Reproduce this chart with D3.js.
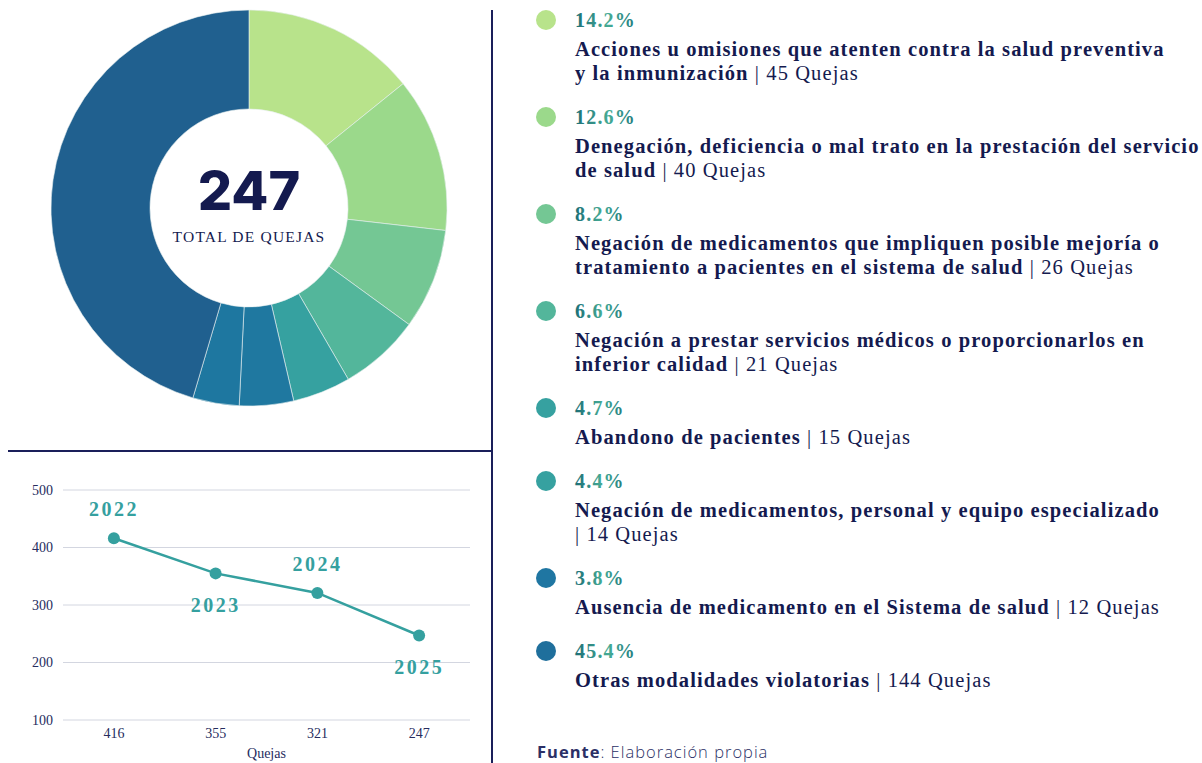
<!DOCTYPE html>
<html>
<head>
<meta charset="utf-8">
<script src="https://cdn.jsdelivr.net/npm/d3@7"></script>
<style>
  body { margin: 0; background: #fff; }
  svg { display: block; }
</style>
</head>
<body>
<script>
// --- data ---
const categories = [
  "Acciones u omisiones que atenten contra la salud preventiva\ny la inmunización",
  "Denegación, deficiencia o mal trato en la prestación del servicio\nde salud",
  "Negación de medicamentos que impliquen posible  mejoría o\ntratamiento a pacientes en el sistema de salud",
  "Negación a prestar servicios médicos o proporcionarlos en\ninferior calidad",
  "Abandono de pacientes",
  "Negación  de medicamentos, personal y equipo especializado\n",
  "Ausencia de medicamento en el Sistema de salud",
  "Otras modalidades violatorias"
];
const quejas = [45, 40, 26, 21, 15, 14, 12, 144];
const pctLabels = ["14.2%", "12.6%", "8.2%", "6.6%", "4.7%", "4.4%", "3.8%", "45.4%"];
const totalQuejas = 247;

const years = ["2022", "2023", "2024", "2025"];
const yearTotals = [416, 355, 321, 247];
const yTicks = [100, 200, 300, 400, 500];

// --- styles ---
const pieColors = ["#b8e38b", "#9bd98b", "#74c794", "#53b69b", "#36a1a0", "#1f78a0", "#1e77a0", "#20608f"];
const dotColors = ["#b8e38b", "#9bd98b", "#74c794", "#53b69b", "#36a1a0", "#36a1a0", "#1f76a2", "#1f6f9c"];
const navy = "#141a4f";
const serif = "'Liberation Serif', 'DejaVu Serif', serif";

const width = 1202, height = 763;
const svg = d3.select("body").append("svg")
  .attr("width", width)
  .attr("height", height);

const defs = svg.append("defs");
const grad = defs.append("linearGradient").attr("id", "pctGrad")
  .attr("x1", "0%").attr("x2", "100%").attr("y1", "0%").attr("y2", "0%");
grad.append("stop").attr("offset", "0%").attr("stop-color", "#1d6f77");
grad.append("stop").attr("offset", "55%").attr("stop-color", "#46ab95");
grad.append("stop").attr("offset", "100%").attr("stop-color", "#227a7d");

// dividers
svg.append("line").attr("x1", 492).attr("x2", 492).attr("y1", 10).attr("y2", height)
  .attr("stroke", "#1a1f5a").attr("stroke-width", 2);
svg.append("line").attr("x1", 8).attr("x2", 492).attr("y1", 451).attr("y2", 451)
  .attr("stroke", "#1a1f5a").attr("stroke-width", 2);

// --- donut ---
const cx = 249, cy = 208, rOuter = 198, rInner = 99;
const pie = d3.pie().sort(null).value(d => d)(quejas);
const arc = d3.arc().innerRadius(rInner).outerRadius(rOuter);
const donut = svg.append("g").attr("transform", `translate(${cx},${cy})`);
donut.selectAll("path").data(pie).join("path")
  .attr("d", arc)
  .attr("fill", (d, i) => pieColors[i])
  .attr("stroke", "#e8f0f0")
  .attr("stroke-width", 0.6);

donut.append("text")
  .attr("y", 2)
  .attr("text-anchor", "middle")
  .attr("font-family", "Inter, 'Open Sans', sans-serif")
  .attr("font-weight", 800)
  .attr("font-size", 54)
  .attr("fill", navy)
  .text(totalQuejas);
donut.append("text")
  .attr("y", 34)
  .attr("text-anchor", "middle")
  .attr("font-family", serif)
  .attr("font-size", 15.5)
  .attr("letter-spacing", 1.2)
  .attr("fill", navy)
  .text("TOTAL DE QUEJAS");

// --- line chart ---
const x = d3.scalePoint().domain(years).range([63, 470]).padding(0.5);
const y = d3.scaleLinear().domain([100, 500]).range([720, 490]);
const lc = svg.append("g");

lc.selectAll("line.grid").data(yTicks).join("line")
  .attr("class", "grid")
  .attr("x1", 63).attr("x2", 470)
  .attr("y1", d => y(d)).attr("y2", d => y(d))
  .attr("stroke", "#d3d6e0").attr("stroke-width", 1);

lc.selectAll("text.ytick").data(yTicks).join("text")
  .attr("class", "ytick")
  .attr("x", 53).attr("y", d => y(d) + 4.5)
  .attr("text-anchor", "end")
  .attr("font-family", serif).attr("font-size", 14)
  .attr("fill", "#262c5e")
  .text(d => d);

lc.selectAll("text.xtick").data(years).join("text")
  .attr("class", "xtick")
  .attr("x", d => x(d)).attr("y", 738)
  .attr("text-anchor", "middle")
  .attr("font-family", serif).attr("font-size", 14)
  .attr("fill", "#262c5e")
  .text((d, i) => yearTotals[i]);

lc.append("text")
  .attr("x", (x.range()[0] + x.range()[1]) / 2).attr("y", 758)
  .attr("text-anchor", "middle")
  .attr("font-family", serif).attr("font-size", 14)
  .attr("fill", "#262c5e")
  .text("Quejas");

const line = d3.line().x((d, i) => x(years[i])).y(d => y(d));
lc.append("path").datum(yearTotals)
  .attr("d", line)
  .attr("fill", "none")
  .attr("stroke", "#35a09f")
  .attr("stroke-width", 2.5);

lc.selectAll("circle").data(yearTotals).join("circle")
  .attr("cx", (d, i) => x(years[i])).attr("cy", d => y(d))
  .attr("r", 6)
  .attr("fill", "#35a09f");

lc.selectAll("text.year").data(yearTotals).join("text")
  .attr("class", "year")
  .attr("x", (d, i) => x(years[i]))
  .attr("y", (d, i) => y(d) + (i % 2 === 0 ? -22 : 39))
  .attr("text-anchor", "middle")
  .attr("font-family", serif).attr("font-weight", 700)
  .attr("font-size", 20).attr("letter-spacing", 2.5)
  .attr("fill", "#35a09f")
  .text((d, i) => years[i]);

// --- legend ---
const legend = svg.append("g");
let rowY = 20;
categories.forEach((cat, i) => {
  const lines = cat.split("\n");
  const g = legend.append("g").attr("transform", `translate(0,${rowY})`);
  g.append("circle").attr("cx", 546).attr("cy", 0).attr("r", 10).attr("fill", dotColors[i]);
  g.append("text")
    .attr("x", 575).attr("y", 7)
    .attr("font-family", serif).attr("font-weight", 700)
    .attr("font-size", 20).attr("letter-spacing", 1.2)
    .attr("fill", "url(#pctGrad)")
    .text(pctLabels[i]);
  lines.forEach((ln, j) => {
    const t = g.append("text")
      .attr("x", 575).attr("y", 36 + j * 24)
      .attr("font-family", serif).attr("font-size", 20.5)
      .attr("letter-spacing", 1.1)
      .attr("fill", navy);
    if (ln) t.append("tspan").attr("font-weight", 700).text(ln);
    if (j === lines.length - 1) {
      t.append("tspan").attr("font-weight", 400).attr("fill", navy)
        .text((ln ? " " : "") + "| " + quejas[i] + " Quejas");
    }
  });
  rowY += 49 + 24 * lines.length;
});

// footer
const foot = svg.append("text")
  .attr("x", 537).attr("y", 758)
  .attr("font-family", "'Open Sans', sans-serif").attr("font-size", 16.5)
  .attr("letter-spacing", 1)
  .attr("fill", "#2b3066");
foot.append("tspan").attr("font-weight", 700).text("Fuente");
foot.append("tspan").attr("font-weight", 300).text(": Elaboración propia");
</script>
</body>
</html>
